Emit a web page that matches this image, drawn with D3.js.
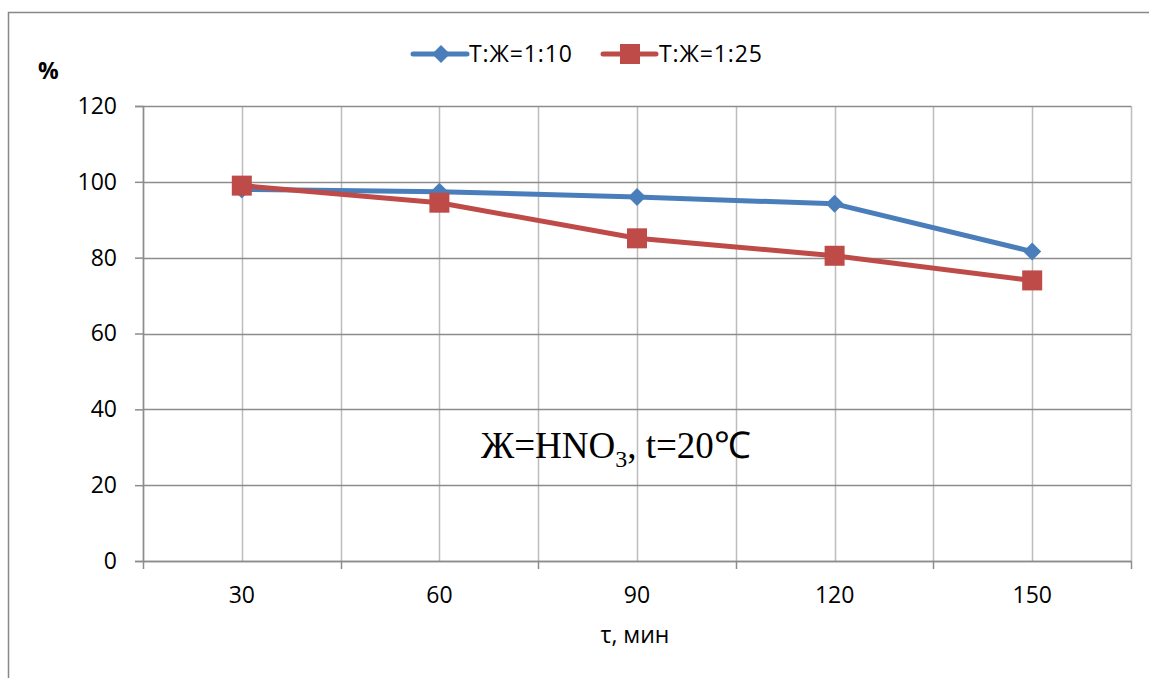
<!DOCTYPE html>
<html><head><meta charset="utf-8">
<script src="https://cdn.jsdelivr.net/npm/d3@7"></script>
<style>body{margin:0;background:#fff}svg{display:block}</style>
</head><body>
<svg id="c" width="1149" height="678"></svg>
<script>
const categories = [30, 60, 90, 120, 150];
const series1Name = "Т:Ж=1:10";
const series1 = [98, 97.4, 96, 94.2, 81.6];
const series2Name = "Т:Ж=1:25";
const series2 = [99, 94.5, 85.1, 80.5, 74];
const yTicks = [0, 20, 40, 60, 80, 100, 120];

const svg = d3.select("#c");
const L = 143, R = 1131, T = 106, B = 561;
const font = "'Open Sans', 'Liberation Sans', sans-serif";
const fs = 23;

// outer border
svg.append("path").attr("d", "M8.5,678 L8.5,12.5 L1149,12.5").attr("fill", "none").attr("stroke", "#888").attr("stroke-width", 1.5);

const x = d3.scaleBand().domain(categories).range([L, R]).padding(0);
const y = d3.scaleLinear().domain([0, 120]).range([B, T]);

// vertical gridlines at centers and boundaries
const vx = [];
categories.forEach(c => { vx.push(x(c)); vx.push(x(c) + x.bandwidth() / 2); });
vx.push(R);
svg.append("g").selectAll("line").data(vx).join("line")
  .attr("x1", d => Math.round(d) + 0.5).attr("x2", d => Math.round(d) + 0.5)
  .attr("y1", T).attr("y2", B).attr("stroke", "#bdbdbd").attr("stroke-width", 1.5);

// horizontal gridlines
svg.append("g").selectAll("line").data(yTicks).join("line")
  .attr("x1", L).attr("x2", R)
  .attr("y1", d => Math.round(y(d)) + 0.5).attr("y2", d => Math.round(y(d)) + 0.5)
  .attr("stroke", "#8c8c8c").attr("stroke-width", 1.5);

// y axis
const ya = svg.append("g").attr("transform", `translate(${L},0)`)
  .call(d3.axisLeft(y).tickValues(yTicks).tickSize(8).tickPadding(18));
ya.select(".domain").attr("stroke", "#8c8c8c").attr("stroke-width", 1.5);
ya.selectAll(".tick line").attr("stroke", "#8c8c8c").attr("stroke-width", 1.5);
ya.selectAll("text").attr("font-family", font).attr("font-size", fs).attr("fill", "#000");

// x axis
const xa = svg.append("g").attr("transform", `translate(0,${B})`)
  .call(d3.axisBottom(x).tickSize(0).tickPadding(26));
xa.select(".domain").attr("stroke", "#8c8c8c").attr("stroke-width", 1.5);
xa.selectAll("text").attr("font-family", font).attr("font-size", fs).attr("fill", "#000");
const bx = categories.map(c => x(c)); bx.push(R);
svg.append("g").selectAll("line").data(bx).join("line")
  .attr("x1", d => Math.round(d) + 0.5).attr("x2", d => Math.round(d) + 0.5)
  .attr("y1", B).attr("y2", B + 8).attr("stroke", "#8c8c8c").attr("stroke-width", 1.5);

// axis titles
svg.append("text").attr("x", 38).attr("y", 79).attr("font-family", font).attr("font-size", fs)
  .attr("font-weight", "bold").text("%");
svg.append("text").attr("x", 635).attr("y", 643).attr("text-anchor", "middle")
  .attr("font-family", font).attr("font-size", fs).text("τ, мин");

// lines
const cx = c => x(c) + x.bandwidth() / 2;
const line = d3.line().x((d, i) => cx(categories[i])).y(d => y(d));
const c1 = "#4A7EBB", c2 = "#BE4B48";
svg.append("path").datum(series1).attr("d", line).attr("fill", "none").attr("stroke", c1).attr("stroke-width", 5).attr("stroke-linejoin", "round");
svg.append("path").datum(series2).attr("d", line).attr("fill", "none").attr("stroke", c2).attr("stroke-width", 5).attr("stroke-linejoin", "round");

const diamond = (px, py, s) => `M${px},${py - s} L${px + s},${py} L${px},${py + s} L${px - s},${py} Z`;
svg.append("g").selectAll("path").data(series1).join("path")
  .attr("d", (d, i) => diamond(cx(categories[i]), y(d), 9)).attr("fill", c1);
svg.append("g").selectAll("rect").data(series2).join("rect")
  .attr("x", (d, i) => cx(categories[i]) - 10).attr("y", d => y(d) - 10)
  .attr("width", 20).attr("height", 20).attr("fill", c2);

// legend
const ly = 54;
const lg = svg.append("g");
lg.append("line").attr("x1", 413).attr("x2", 467).attr("y1", ly).attr("y2", ly).attr("stroke", c1).attr("stroke-width", 5).attr("stroke-linecap", "round");
lg.append("path").attr("d", diamond(441, ly, 9)).attr("fill", c1);
lg.append("text").attr("x", 469).attr("y", ly + 8).attr("font-family", font).attr("font-size", fs).attr("textLength", 103).text(series1Name);
lg.append("line").attr("x1", 603).attr("x2", 656).attr("y1", ly).attr("y2", ly).attr("stroke", c2).attr("stroke-width", 5).attr("stroke-linecap", "round");
lg.append("rect").attr("x", 620).attr("y", ly - 10).attr("width", 20).attr("height", 20).attr("fill", c2);
lg.append("text").attr("x", 659).attr("y", ly + 8).attr("font-family", font).attr("font-size", fs).attr("textLength", 103).text(series2Name);

// annotation
const ann = svg.append("text").attr("x", 481).attr("y", 458).attr("font-family", "'Liberation Serif', 'Times New Roman', serif").attr("font-size", 37);
ann.append("tspan").text("Ж=HNO");
ann.append("tspan").attr("font-size", 24).attr("dy", 9).text("3");
ann.append("tspan").attr("dy", -9).text(", t=20℃");
</script>
</body></html>
